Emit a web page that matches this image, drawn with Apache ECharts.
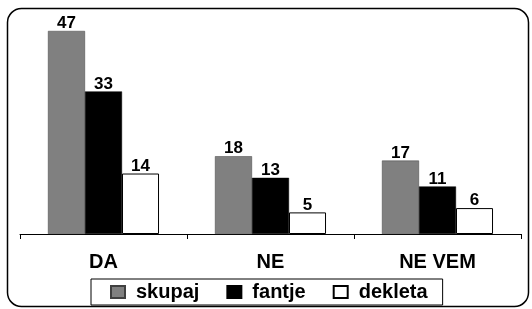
<!DOCTYPE html>
<html><head><meta charset="utf-8">
<script src="https://cdn.jsdelivr.net/npm/echarts@6/dist/echarts.min.js"></script>
<style>html,body{margin:0;padding:0;background:#fff}#c{width:532px;height:309px}</style>
</head><body><div id="c"></div>
<script>
const categories = ['DA', 'NE', 'NE VEM'];
const skupaj = [47, 18, 17];
const fantje = [33, 13, 11];
const dekleta = [14, 5, 6];

const chart = echarts.init(document.getElementById('c'));
const FONT = 'Arial, Liberation Sans';
const lbl = {show: true, position: 'top', distance: -1, color: '#000', fontFamily: FONT, fontWeight: 'bold', fontSize: 17};
chart.setOption({
  animation: false,
  backgroundColor: '#fff',
  grid: {left: 20, right: 11, top: 18, bottom: 75},
  xAxis: {
    type: 'category', data: categories,
    axisLine: {lineStyle: {color: '#000', width: 1}},
    axisTick: {show: true, length: 5, lineStyle: {color: '#000'}},
    axisLabel: {color: '#000', fontFamily: FONT, fontWeight: 'bold', fontSize: 20, margin: 18}
  },
  yAxis: {type: 'value', min: 0, max: 50, show: false, splitLine: {show: false}},
  legend: {
    data: ['skupaj', 'fantje', 'dekleta'],
    left: 91, top: 279,
    padding: [3, 15, 3, 19],
    itemGap: 27,
    itemWidth: 14, itemHeight: 12,
    borderColor: '#000', borderWidth: 1,
    textStyle: {color: '#000', fontFamily: FONT, fontWeight: 'bold', fontSize: 20, padding: [0, 0, 0, 6]},
    icon: 'rect'
  },
  series: [
    {name: 'skupaj', type: 'bar', data: skupaj, barGap: 0, barCategoryGap: '33.5%',
     itemStyle: {color: '#808080', borderColor: '#404040', borderWidth: 0.5}, label: lbl},
    {name: 'fantje', type: 'bar', data: fantje,
     itemStyle: {color: '#000', borderColor: '#000', borderWidth: 0.5}, label: lbl},
    {name: 'dekleta', type: 'bar', data: dekleta,
     itemStyle: {color: '#fff', borderColor: '#000', borderWidth: 1}, label: lbl}
  ],
  graphic: [{
    type: 'rect', shape: {x: 7.5, y: 8.5, width: 521, height: 298, r: [14, 14, 14, 14]},
    style: {fill: 'none', stroke: '#000', lineWidth: 1.5}, silent: true, z: -1
  }]
});
</script></body></html>
